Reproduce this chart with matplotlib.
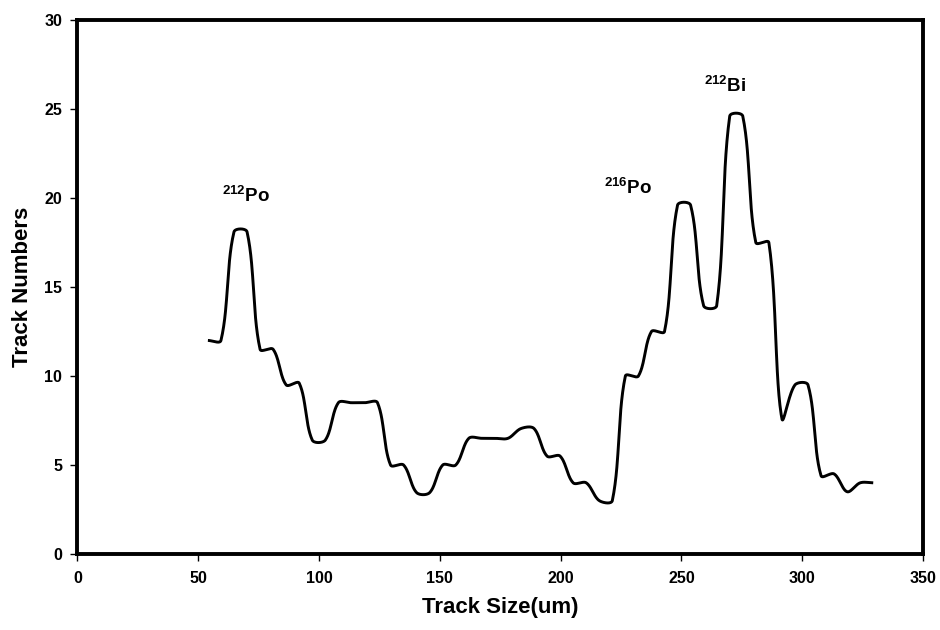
import numpy as np
import matplotlib
matplotlib.use('Agg')
import matplotlib.pyplot as plt

plt.rcParams['font.family'] = ['Liberation Sans', 'DejaVu Sans']
plt.rcParams['font.weight'] = 'bold'
plt.rcParams['mathtext.fontset'] = 'custom'
plt.rcParams['mathtext.rm'] = 'Liberation Sans:bold'
plt.rcParams['mathtext.bf'] = 'Liberation Sans:bold'

# track size bins (um) and counts
track_size = [54.0, 59.4, 64.8, 70.2, 75.6, 81.0, 86.4, 91.8, 97.2, 102.6,
              108.0, 113.4, 118.8, 124.2, 129.6, 135.0, 140.4, 145.8, 151.2, 156.6,
              162.0, 167.4, 172.8, 178.2, 183.6, 189.0, 194.4, 199.8, 205.2, 210.6,
              216.0, 221.4, 226.8, 232.2, 237.6, 243.0, 248.4, 253.8, 259.2, 264.6,
              270.0, 275.4, 280.8, 286.2, 291.6, 297.0, 302.4, 307.8, 313.2, 318.6,
              324.0, 329.4]
track_num = [12.0, 12.0, 18.1, 18.1, 11.5, 11.5, 9.5, 9.6, 6.4, 6.4,
             8.5, 8.5, 8.5, 8.5, 5.0, 5.0, 3.45, 3.45, 5.0, 5.0,
             6.5, 6.5, 6.5, 6.5, 7.05, 7.05, 5.5, 5.5, 4.0, 4.0,
             3.0, 3.0, 10.0, 10.0, 12.5, 12.5, 19.6, 19.6, 13.95, 13.95,
             24.6, 24.6, 17.5, 17.5, 7.6, 9.5, 9.5, 4.4, 4.5, 3.5,
             4.0, 4.0]

peak_labels = [r'$^{212}$Po', r'$^{216}$Po', r'$^{212}$Bi']
peak_x = [60.0, 218.0, 259.3]
peak_y = [19.8, 20.25, 25.95]

xmax, ymax = 350, 30


def excel_smooth(x, y, sx, sy, n=30):
    # bezier smoothing like a spreadsheet "smoothed line", done in screen units
    P = np.column_stack([np.asarray(x) * sx, np.asarray(y) * sy])
    prev = np.vstack([P[:1], P[:-1]])
    nxt = np.vstack([P[1:], P[-1:]])
    D = nxt - prev
    d1 = np.hypot(*(P - prev).T)
    d2 = np.hypot(*(nxt - P).T)
    tot = d1 + d2
    tot[tot == 0] = 1
    c_after = P + D * (d2 / tot)[:, None] / 3
    c_before = P - D * (d1 / tot)[:, None] / 3
    t = np.linspace(0, 1, n)[:, None]
    segs = []
    for i in range(len(P) - 1):
        p0, p1, p2, p3 = P[i], c_after[i], c_before[i + 1], P[i + 1]
        b = (1 - t)**3 * p0 + 3 * (1 - t)**2 * t * p1 + 3 * (1 - t) * t**2 * p2 + t**3 * p3
        segs.append(b if i == 0 else b[1:])
    pts = np.vstack(segs)
    return pts[:, 0] / sx, pts[:, 1] / sy


fig = plt.figure(figsize=(9.4, 6.3), dpi=100)
ax = fig.add_axes([0.0824, 0.1206, 0.8995, 0.8476])
ax.set_xlim(0, xmax)
ax.set_ylim(0, ymax)

pos = ax.get_position()
sx = 940 * pos.width / xmax
sy = 630 * pos.height / ymax
xs, ys = excel_smooth(track_size, track_num, sx, sy)
ax.plot(xs, ys, color='black', lw=2.1, solid_capstyle='butt')

for lab, px, py in zip(peak_labels, peak_x, peak_y):
    ax.text(px, py, lab, fontsize=13.5, ha='left', va='baseline')

ax.set_xticks(np.arange(0, xmax + 1, 50))
ax.set_yticks(np.arange(0, ymax + 1, 5))
ax.tick_params(direction='out', length=5, width=1, labelsize=11.5, pad=7, color='black')
ax.tick_params(axis='y', pad=6)
for lbl in ax.get_xticklabels() + ax.get_yticklabels():
    lbl.set_fontweight('bold')
for sp in ax.spines.values():
    sp.set_linewidth(2.8)

ax.set_xlabel('Track Size(um)', fontsize=16, fontweight='bold')
ax.set_ylabel('Track Numbers', fontsize=16, fontweight='bold')
ax.xaxis.set_label_coords(0.5, -0.08)
ax.yaxis.set_label_coords(-0.052, 0.5)

fig.savefig('out.png', dpi=100)
